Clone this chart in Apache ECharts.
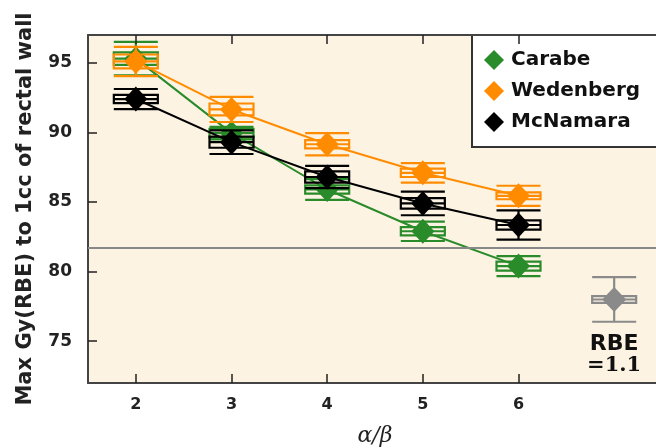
<!DOCTYPE html>
<html>
<head>
<meta charset="utf-8">
<script src="https://cdn.jsdelivr.net/npm/echarts@6/dist/echarts.min.js"></script>
<style>
  html, body { margin: 0; padding: 0; background: #ffffff; }
  #chart { width: 656px; height: 448px; }
</style>
</head>
<body>
<div id="chart"></div>
<script>
// alpha/beta ratios along the x axis
const alphaBeta = [2, 3, 4, 5, 6];

// Max dose to 1cc of rectal wall for each RBE model, with outer error and inner box half-heights
const carabe       = [95.3, 89.95, 85.9, 82.9, 80.4];
const carabeErr    = [1.2, 0.45, 0.75, 0.7, 0.72];
const carabeBox    = [0.45, 0.3, 0.3, 0.3, 0.32];

const wedenberg    = [95.1, 91.65, 89.15, 87.1, 85.45];
const wedenbergErr = [1.05, 0.9, 0.8, 0.7, 0.72];
const wedenbergBox = [0.5, 0.43, 0.3, 0.3, 0.25];

const mcnamara     = [92.4, 89.3, 86.8, 84.9, 83.35];
const mcnamaraErr  = [0.72, 0.85, 0.8, 0.85, 1.05];
const mcnamaraBox  = [0.3, 0.4, 0.4, 0.38, 0.33];

// constant RBE = 1.1 reference point and horizontal reference level
const rbeX = [7];
const rbeValue = [78.0];
const rbeErr = [1.6];
const rbeBox = [0.24];
const rbeLevel = 81.7;

// tick values
const xTicks = [2, 3, 4, 5, 6];
const yTicks = [75, 80, 85, 90, 95];

const GREEN = '#2a8b2a';
const ORANGE = '#ff8c00';
const BLACK = '#000000';
const GREY = '#8a8a8a';
const SANS = 'DejaVu Sans';

function pairs(xs, ys) { return xs.map((x, i) => [x, ys[i]]); }
function errRows(xs, ys, eo, eb) { return xs.map((x, i) => [x, ys[i], eo[i], eb[i]]); }

function errorBars(color) {
  return function (params, api) {
    const x = api.value(0), y = api.value(1), eo = api.value(2), eb = api.value(3);
    const hw = 0.23;
    const l = api.coord([x - hw, y])[0];
    const r = api.coord([x + hw, y])[0];
    const c = api.coord([x, y]);
    const top = api.coord([x, y + eo])[1];
    const bot = api.coord([x, y - eo])[1];
    const bt = api.coord([x, y + eb])[1];
    const bb = api.coord([x, y - eb])[1];
    const st = { stroke: color, lineWidth: 2.2, fill: null };
    return {
      type: 'group',
      children: [
        { type: 'line', shape: { x1: c[0], y1: top, x2: c[0], y2: bot }, style: st },
        { type: 'line', shape: { x1: l, y1: top, x2: r, y2: top }, style: st },
        { type: 'line', shape: { x1: l, y1: bot, x2: r, y2: bot }, style: st },
        { type: 'rect', shape: { x: l, y: bt, width: r - l, height: bb - bt }, style: st },
        { type: 'line', shape: { x1: l, y1: c[1], x2: r, y2: c[1] }, style: st }
      ]
    };
  };
}

function errSeries(name, color, rows, z) {
  return {
    name: name, type: 'custom', xAxisIndex: 0, yAxisIndex: 0,
    renderItem: errorBars(color), data: rows, z: z, silent: true,
    encode: { x: 0, y: 1 }
  };
}

function lineSeries(name, color, data, z) {
  return {
    name: name, type: 'line', xAxisIndex: 0, yAxisIndex: 0,
    data: data, symbol: 'diamond', symbolSize: [23, 25],
    itemStyle: { color: color }, lineStyle: { color: color, width: 2 },
    z: z, animation: false
  };
}

const chart = echarts.init(document.getElementById('chart'), null, { renderer: 'canvas' });

const option = {
  animation: false,
  backgroundColor: '#ffffff',
  textStyle: { fontFamily: SANS },
  grid: {
    left: 88, top: 35, width: 574, height: 348,
    containLabel: false, outerBoundsMode: 'none',
    show: true, backgroundColor: '#fcf3e3', borderWidth: 0
  },
  legend: {
    data: ['Carabe', 'Wedenberg', 'McNamara'],
    orient: 'vertical', left: 472, top: 35,
    icon: 'diamond', itemWidth: 20, itemHeight: 20, itemGap: 11,
    padding: [15, 40, 15, 12],
    backgroundColor: '#ffffff', borderColor: '#333333', borderWidth: 2,
    textStyle: { fontFamily: SANS, fontWeight: 'bold', fontSize: 20, color: '#111111', padding: [0, 0, 0, 2] },
    selectedMode: false
  },
  xAxis: [
    {
      type: 'value', position: 'bottom', min: 1.5, max: 7.5,
      name: 'α/β', nameLocation: 'middle', nameGap: 42,
      nameTextStyle: { fontFamily: 'DejaVu Serif', fontStyle: 'italic', fontSize: 22, color: '#222222' },
      axisLine: { show: true, onZero: false, lineStyle: { color: '#444444', width: 2 } },
      axisTick: { show: true, inside: true, length: 9, customValues: xTicks, lineStyle: { color: '#222222', width: 1.5 } },
      axisLabel: { customValues: xTicks, margin: 14, fontFamily: SANS, fontWeight: 'bold', fontSize: 16, color: '#222222' },
      splitLine: { show: false }
    },
    {
      type: 'value', position: 'top', min: 1.5, max: 7.5, z: 10,
      axisLine: { show: true, onZero: false, lineStyle: { color: '#444444', width: 2 } },
      axisTick: { show: true, inside: true, length: 9, customValues: xTicks, lineStyle: { color: '#222222', width: 1.5 } },
      axisLabel: { show: false },
      splitLine: { show: false }
    }
  ],
  yAxis: {
    type: 'value', min: 72, max: 97,
    name: 'Max Gy(RBE) to 1cc of rectal wall', nameLocation: 'middle', nameGap: 52,
    nameTextStyle: { fontFamily: SANS, fontWeight: 'bold', fontSize: 21, color: '#222222' },
    axisLine: { show: true, onZero: false, lineStyle: { color: '#444444', width: 2 } },
    axisTick: { show: true, inside: true, length: 9, customValues: yTicks, lineStyle: { color: '#222222', width: 1.5 } },
    axisLabel: { customValues: yTicks, margin: 16, fontFamily: SANS, fontWeight: 'bold', fontSize: 17, color: '#222222' },
    splitLine: { show: false }
  },
  series: [
    {
      name: 'RBE 1.1', type: 'line', data: pairs(rbeX, rbeValue),
      symbol: 'diamond', symbolSize: [24, 25],
      itemStyle: { color: GREY }, lineStyle: { width: 0 }, z: 4,
      label: {
        show: true, position: 'bottom', distance: 21,
        formatter: '{a|RBE}\n{b|=1.1}',
        rich: {
          a: { fontFamily: SANS, fontWeight: 'bold', fontSize: 22, lineHeight: 22, color: '#111111', align: 'center' },
          b: { fontFamily: 'DejaVu Serif', fontWeight: 'bold', fontSize: 21, lineHeight: 21, color: '#111111', align: 'center' }
        }
      },
      markLine: {
        silent: true, symbol: 'none', label: { show: false },
        lineStyle: { color: '#888888', width: 2, type: 'solid' },
        data: [{ yAxis: rbeLevel }]
      }
    },
    errSeries('RBE 1.1 err', GREY, errRows(rbeX, rbeValue, rbeErr, rbeBox), 3),
    errSeries('Carabe err', GREEN, errRows(alphaBeta, carabe, carabeErr, carabeBox), 3),
    lineSeries('Carabe', GREEN, pairs(alphaBeta, carabe), 4),
    errSeries('Wedenberg err', ORANGE, errRows(alphaBeta, wedenberg, wedenbergErr, wedenbergBox), 5),
    lineSeries('Wedenberg', ORANGE, pairs(alphaBeta, wedenberg), 6),
    errSeries('McNamara err', BLACK, errRows(alphaBeta, mcnamara, mcnamaraErr, mcnamaraBox), 7),
    lineSeries('McNamara', BLACK, pairs(alphaBeta, mcnamara), 8)
  ]
};

chart.setOption(option);
</script>
</body>
</html>
